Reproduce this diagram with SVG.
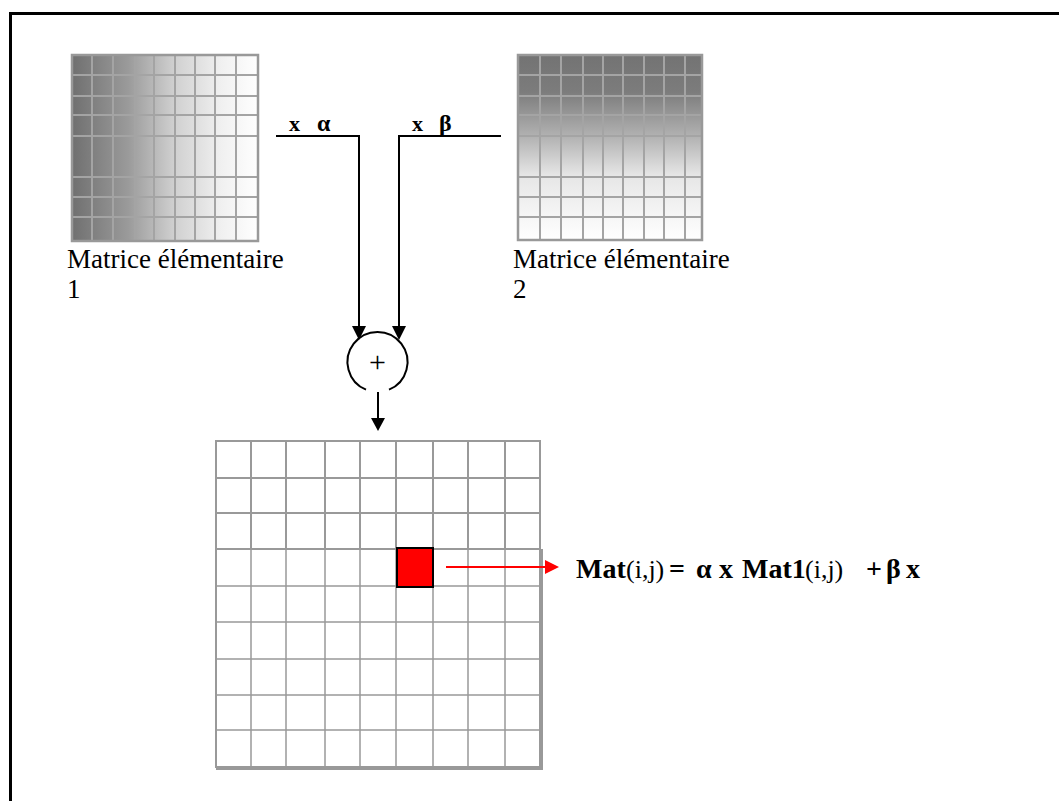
<svg xmlns="http://www.w3.org/2000/svg" width="1059" height="801" viewBox="0 0 1059 801">
<style>
.lbl{font-family:"Liberation Serif","Times New Roman",serif;fill:#000}
.mgrid{stroke:#a4a4a4;stroke-width:2;fill:none}
.rgrid{stroke:#999;fill:none}
.wire{stroke:#000;stroke-width:2;fill:none}
.head{fill:#000}
</style>
<defs>
<linearGradient id="gh" x1="0" y1="0" x2="1" y2="0">
<stop offset="0" stop-color="#707070"/>
<stop offset="0.3" stop-color="#9a9a9a"/>
<stop offset="0.55" stop-color="#d0d0d0"/>
<stop offset="0.8" stop-color="#f0f0f0"/>
<stop offset="1" stop-color="#ffffff"/>
</linearGradient>
<linearGradient id="gv" x1="0" y1="0" x2="0" y2="1">
<stop offset="0" stop-color="#737373"/>
<stop offset="0.2" stop-color="#7c7c7c"/>
<stop offset="0.45" stop-color="#b4b4b4"/>
<stop offset="0.65" stop-color="#e6e6e6"/>
<stop offset="1" stop-color="#ffffff"/>
</linearGradient>
</defs>
<rect width="1059" height="801" fill="#fff"/>
<path d="M10.5 801 V13.5 H1059" fill="none" stroke="#000" stroke-width="3"/>

<g id="matrix1">
<rect x="72" y="55" width="186" height="186" fill="url(#gh)"/>
<path class="mgrid" d="M92 55V241M113 55V241M135 55V241M154 55V241M175 55V241M195 55V241M215 55V241M236 55V241M72 75H258M72 96H258M72 115H258M72 136H258M72 177H258M72 197H258M72 217H258"/>
<rect x="72" y="55" width="186" height="186" fill="none" stroke="#999" stroke-width="2.5"/>
<text class="lbl" x="67" y="268" font-size="27">Matrice élémentaire</text>
<text class="lbl" x="67" y="298" font-size="27">1</text>
</g>

<g id="matrix2">
<rect x="518" y="55" width="184" height="185" fill="url(#gv)"/>
<path class="mgrid" d="M540 55V240M561 55V240M583 55V240M603 55V240M623 55V240M644 55V240M664 55V240M685 55V240M518 75H702M518 96H702M518 115H702M518 136H702M518 177H702M518 197H702M518 217H702"/>
<rect x="518" y="55" width="184" height="185" fill="none" stroke="#999" stroke-width="2.5"/>
<text class="lbl" x="513" y="268" font-size="27">Matrice élémentaire</text>
<text class="lbl" x="513" y="298" font-size="27">2</text>
</g>

<g id="sum">
<path d="M389 389.7 A30 30 0 1 0 366 389.7" fill="none" stroke="#000" stroke-width="2"/>
<text class="lbl" x="377.5" y="372" font-size="30" text-anchor="middle">+</text>
</g>

<g id="result">
<rect x="216" y="441" width="324" height="326" fill="#fff"/>
<path class="rgrid" stroke-width="2" d="M251 441V549M286 441V549M325 441V549M360 441V549M396 441V549M433 441V549M468 441V549M505 441V549M216 478H540M216 513H540M216 549H540"/>
<path class="rgrid" stroke-width="1.5" d="M251 549V767M286 549V767M325 549V767M360 549V767M396 549V767M433 549V767M468 549V767M505 549V767M216 586H540M216 622H540M216 659H540M216 695H540M216 730H540"/>
<rect x="216" y="441" width="324" height="326" fill="none" stroke="#999" stroke-width="2"/>
<path d="M541.5 549V768.5H216" fill="none" stroke="#999" stroke-width="3"/>
<rect x="397" y="548" width="36" height="39" fill="#f00" stroke="#000" stroke-width="2"/>
</g>

<g id="formula" class="lbl" font-size="28">
<text y="578"><tspan x="576" font-weight="bold">Mat</tspan><tspan x="626" font-size="26">(i,j)</tspan><tspan x="669" font-weight="bold">=</tspan><tspan x="696" font-weight="bold">α</tspan><tspan x="719" font-weight="bold">x</tspan><tspan x="742" font-weight="bold">Mat1</tspan><tspan x="805" font-size="26">(i,j)</tspan><tspan x="866" font-weight="bold">+</tspan><tspan x="886" font-weight="bold">β</tspan><tspan x="906" font-weight="bold">x</tspan></text>
</g>

<g id="connectors">
<path class="wire" d="M276 136H359V328"/>
<polygon class="head" points="352,326 366,326 359,340"/>
<path class="wire" d="M501 136H399V328"/>
<polygon class="head" points="392,326 406,326 399,340"/>
<path class="wire" d="M378 392V420"/>
<polygon class="head" points="371,418 385,418 378,431"/>
<text class="lbl" x="289" y="131" font-size="22" font-weight="bold">x</text>
<text class="lbl" x="317" y="131" font-size="24" font-weight="bold">α</text>
<text class="lbl" x="412" y="131" font-size="22" font-weight="bold">x</text>
<text class="lbl" x="439" y="131" font-size="24" font-weight="bold">β</text>
<path d="M446 567H547" stroke="#f00" stroke-width="2" fill="none"/>
<polygon points="545,560 545,574 559,567" fill="#f00"/>
</g>
</svg>
